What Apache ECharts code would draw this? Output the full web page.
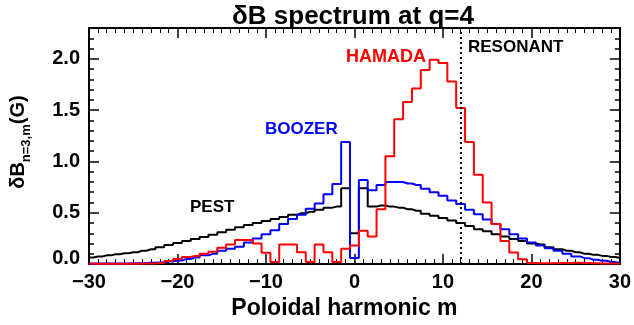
<!DOCTYPE html>
<html>
<head>
<meta charset="utf-8">
<script src="https://cdn.jsdelivr.net/npm/echarts@6/dist/echarts.min.js"></script>
<style>
  html, body { margin: 0; padding: 0; background: #fff; }
  #chart { width: 634px; height: 325px; }
</style>
</head>
<body>
<div id="chart"></div>
<script>
// poloidal harmonics m = -30 .. 30
const harmonics = [];
for (let m = -30; m <= 30; m++) harmonics.push(m);

const pest = [
  0.065, 0.075, 0.085, 0.095, 0.105, 0.115, 0.13, 0.145, 0.165, 0.185,
  0.205, 0.225, 0.245, 0.265, 0.285, 0.31, 0.335, 0.36, 0.38, 0.40,
  0.42, 0.44, 0.46, 0.48, 0.495, 0.51, 0.53, 0.55, 0.56, 0.74,
  0.30,
  0.74, 0.56, 0.57, 0.56, 0.55, 0.535, 0.52, 0.49, 0.47, 0.45,
  0.425, 0.40, 0.37, 0.34, 0.32, 0.29, 0.27, 0.245, 0.225, 0.20,
  0.19, 0.165, 0.145, 0.13, 0.115, 0.10, 0.09, 0.08, 0.07, 0.06
];

const boozer = [
  0.005, 0.005, 0.005, 0.006, 0.007, 0.008, 0.01, 0.012, 0.015, 0.025,
  0.035, 0.05, 0.065, 0.085, 0.10, 0.13, 0.15, 0.17, 0.21, 0.25,
  0.29, 0.33, 0.39, 0.44, 0.48, 0.54, 0.59, 0.68, 0.78, 1.19,
  0.06,
  0.82, 0.72, 0.77, 0.80, 0.80, 0.785, 0.77, 0.735, 0.70, 0.665,
  0.62, 0.585, 0.53, 0.485, 0.435, 0.39, 0.34, 0.29, 0.25, 0.21,
  0.18, 0.155, 0.13, 0.10, 0.075, 0.058, 0.042, 0.032, 0.02, 0.01
];

const hamada = [
  0.003, 0.003, 0.003, 0.003, 0.003, 0.004, 0.005, 0.006, 0.01, 0.03,
  0.05, 0.07, 0.08, 0.10, 0.12, 0.16, 0.19, 0.235, 0.235, 0.20,
  0.11, 0.02, 0.19, 0.19, 0.115, 0.02, 0.19, 0.115, 0.02, 0.15,
  0.18,
  0.325, 0.27, 0.535, 1.05, 1.41, 1.58, 1.71, 1.89, 1.99, 1.96,
  1.78, 1.52, 1.19, 0.87, 0.60, 0.39, 0.225, 0.113, 0.048, 0.01,
  0.008, 0.008, 0.01, 0.01, 0.012, 0.01, 0.008, 0.006, 0.005, 0.004
];

const resonantM = 12;
const xTicks = [-30, 30, 10];      // min, max, interval
const yTicks = [0, 2.3, 0.5, 0.1]; // min, max, major, minor

const pair = (vals) => harmonics.map((m, i) => [m, vals[i]]);

const chart = echarts.init(document.getElementById('chart'), null, { renderer: 'canvas' });

const font = 'Liberation Sans, Arial, Helvetica, sans-serif';
const axisLine = { show: true, onZero: false, lineStyle: { color: '#000', width: 2 } };

function yAxisDef(position, interval, tickLen, withLabels) {
  return {
    type: 'value',
    position: position,
    min: yTicks[0],
    max: yTicks[1],
    interval: interval,
    axisLine: axisLine,
    axisTick: { show: true, inside: true, length: tickLen, lineStyle: { color: '#000', width: 1.5 } },
    axisLabel: withLabels ? {
      show: true,
      margin: 9,
      color: '#000',
      fontFamily: font,
      fontWeight: 'bold',
      fontSize: 20,
      // IDL lifts the bottom label off the corner
      formatter: (v) => {
        if (Math.abs(v / 0.5 - Math.round(v / 0.5)) > 1e-6) return '';
        return v === 0 ? '{z|0.0}' : v.toFixed(1);
      },
      rich: { z: { fontFamily: font, fontWeight: 'bold', fontSize: 20, padding: [0, 0, 12, 0] } }
    } : { show: false },
    splitLine: { show: false }
  };
}

function xAxisDef(position, withLabels) {
  return {
    type: 'value',
    position: position,
    min: xTicks[0],
    max: xTicks[1],
    interval: xTicks[2],
    axisLine: axisLine,
    axisTick: { show: true, inside: true, length: 10, lineStyle: { color: '#000', width: 1.5 } },
    minorTick: { show: true, splitNumber: 10, length: 5, lineStyle: { color: '#000', width: 1 } },
    axisLabel: withLabels ? {
      show: true,
      margin: 8,
      color: '#000',
      fontFamily: font,
      fontWeight: 'bold',
      fontSize: 20,
      formatter: (v) => String(v).replace('-', '\u2212')
    } : { show: false },
    splitLine: { show: false }
  };
}

const yMain = yAxisDef('left', yTicks[2], 10, true);
yMain.name = '{b|δB}{s|n=3,m}{b|(G)}';
yMain.nameLocation = 'middle';
yMain.nameRotate = 90;
yMain.nameGap = 56;
yMain.nameTextStyle = {
  color: '#000',
  padding: [0, 0, 0, 8],
  rich: {
    b: { fontFamily: font, fontWeight: 'bold', fontSize: 20, lineHeight: 24 },
    s: { fontFamily: font, fontWeight: 'bold', fontSize: 13, lineHeight: 30, verticalAlign: 'bottom' }
  }
};

const xMain = xAxisDef('bottom', true);
xMain.name = 'Poloidal harmonic m';
xMain.nameLocation = 'middle';
xMain.nameGap = 32;
xMain.nameTextStyle = {
  color: '#000', fontFamily: font, fontWeight: 'bold', fontSize: 23,
  padding: [0, 20, 0, 0]
};

function stepSeries(name, vals, color) {
  return {
    name: name,
    type: 'line',
    step: 'middle',
    data: pair(vals),
    showSymbol: false,
    symbol: 'none',
    lineStyle: { color: color, width: 2 },
    animation: false
  };
}

const hamadaSeries = stepSeries('HAMADA', hamada, '#ff0000');

const option = {
  animation: false,
  title: {
    text: 'δB spectrum at q=4',
    left: 348,
    top: -1,
    textAlign: 'center',
    textStyle: { color: '#000', fontFamily: font, fontWeight: 'bold', fontSize: 26 }
  },
  grid: { left: 80, right: 12, top: 28, bottom: 59, containLabel: false },
  xAxis: [xMain, xAxisDef('top', false)],
  yAxis: [
    yMain,
    yAxisDef('left', yTicks[3], 5, false),
    yAxisDef('right', yTicks[2], 10, false),
    yAxisDef('right', yTicks[3], 5, false)
  ],
  series: [
    stepSeries('PEST', pest, '#000000'),
    stepSeries('BOOZER', boozer, '#0000ff'),
    Object.assign(hamadaSeries, {
      markLine: {
        silent: true,
        symbol: 'none',
        label: { show: false },
        lineStyle: { color: '#000', type: [2, 3], width: 2 },
        data: [{ xAxis: resonantM }]
      }
    })
  ],
  graphic: [
    { type: 'text', left: 190, top: 199, style: { text: 'PEST', fill: '#000', font: 'bold 17px ' + font } },
    { type: 'text', left: 265, top: 121, style: { text: 'BOOZER', fill: '#0000ff', font: 'bold 17px ' + font } },
    { type: 'text', left: 346, top: 48, style: { text: 'HAMADA', fill: '#ff0000', font: 'bold 18px ' + font } },
    { type: 'text', left: 468, top: 39, style: { text: 'RESONANT', fill: '#000', font: 'bold 17px ' + font } }
  ]
};

chart.setOption(option);
</script>
</body>
</html>
